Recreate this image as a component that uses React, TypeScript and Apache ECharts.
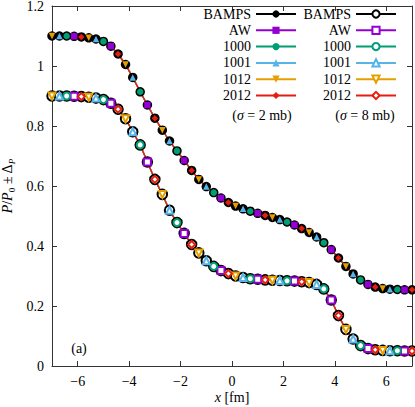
import React, { useEffect, useRef } from "react";
import * as echarts from "echarts";

// x positions (fm)
const X = [
  -7.0, -6.71, -6.43, -6.14, -5.86, -5.57, -5.29, -5.0, -4.71, -4.43,
  -4.14, -3.86, -3.57, -3.29, -3.0, -2.71, -2.43, -2.14, -1.86, -1.57,
  -1.29, -1.0, -0.71, -0.43, -0.14, 0.14, 0.43, 0.71, 1.0, 1.29,
  1.57, 1.86, 2.14, 2.43, 2.71, 3.0, 3.29, 3.57, 3.86, 4.14,
  4.43, 4.71, 5.0, 5.29, 5.57, 5.86, 6.14, 6.43, 6.71, 7.0,
];

// P/P0 for sigma = 2 mb
const SIGMA2 = [
  1.1, 1.1, 1.1, 1.099, 1.097, 1.094, 1.09, 1.082, 1.066, 1.04,
  1.005, 0.962, 0.914, 0.87, 0.826, 0.786, 0.75, 0.717, 0.685, 0.652,
  0.622, 0.598, 0.578, 0.56, 0.545, 0.533, 0.524, 0.516, 0.509, 0.502,
  0.495, 0.488, 0.48, 0.47, 0.458, 0.445, 0.43, 0.411, 0.388, 0.36,
  0.332, 0.307, 0.287, 0.272, 0.263, 0.258, 0.256, 0.255, 0.254, 0.254,
];

// P/P0 for sigma = 8 mb
const SIGMA8 = [
  0.9, 0.9, 0.9, 0.899, 0.898, 0.896, 0.893, 0.888, 0.876, 0.856,
  0.824, 0.781, 0.737, 0.68, 0.622, 0.572, 0.519, 0.478, 0.442, 0.405,
  0.377, 0.351, 0.332, 0.318, 0.308, 0.3, 0.295, 0.291, 0.289, 0.287,
  0.286, 0.285, 0.284, 0.283, 0.281, 0.278, 0.272, 0.257, 0.22, 0.168,
  0.122, 0.09, 0.068, 0.058, 0.054, 0.052, 0.051, 0.051, 0.05, 0.05,
];

const NAMES = ["BAMPS", "AW", "1000", "1001", "1012", "2012"];
const X_TICKS = [-6, -4, -2, 0, 2, 4, 6];

const COLORS = ["#000000", "#9400d3", "#009e73", "#56b4e9", "#e69f00", "#e51e10"];
const SYMBOLS = ["circle", "rect", "circle", "triangle", "triangle", "diamond"];
const ROTATE = [0, 0, 0, 0, 180, 0];
const MARK_OFFSET = [-1, 3, 2, 1, 0, 4];
const FONT = "'Liberation Serif', 'DejaVu Serif', serif";

function makeSeries(data: number[], open: boolean, suffix: string) {
  return NAMES.map((name, k) => {
    const color = COLORS[k];
    const keep = (i: number) => MARK_OFFSET[k] < 0 || i % 5 === MARK_OFFSET[k];
    const sym = open ? "empty" + SYMBOLS[k][0].toUpperCase() + SYMBOLS[k].slice(1) : SYMBOLS[k];
    const size = k === 0 ? 9.5 : open ? 7 : 6.5;
    return {
      type: "line",
      name: name + suffix,
      xAxisIndex: 0,
      yAxisIndex: 0,
      data: X.map((x, i) =>
        keep(i) ? [x, data[i]] : { value: [x, data[i]], symbol: "none" }
      ),
      symbol: sym,
      symbolRotate: ROTATE[k],
      symbolSize: size,
      showSymbol: true,
      showAllSymbol: true,
      lineStyle: { color, width: k === 0 ? 1 : 1.3 },
      itemStyle: { color, borderColor: color, borderWidth: open ? 1.3 : 0 },
      emphasis: { disabled: true },
    };
  });
}

export default function App() {
  const ref = useRef<HTMLDivElement>(null);
  useEffect(() => {
    if (!ref.current) return;
    const chart = echarts.init(ref.current, undefined, { renderer: "svg" });
    const axisLine = { show: true, lineStyle: { color: "#333", width: 1 } };
    const legendBase = {
      orient: "vertical",
      align: "right",
      top: 7,
      itemWidth: 40,
      itemHeight: 9,
      itemGap: 2.3,
      padding: 0,
      textStyle: { fontFamily: FONT, fontSize: 14, color: "#000" },
      formatter: (n: string) => n.trim(),
      selectedMode: false,
    };
    chart.setOption({
      animation: false,
      backgroundColor: "#fff",
      grid: { left: 52, right: 3, top: 6, bottom: 41, containLabel: false, outerBoundsMode: "none" },
      xAxis: [
        {
          type: "value",
          min: -7,
          max: 7,
          position: "bottom",
          axisLine: { ...axisLine, onZero: false },
          axisTick: { inside: true, length: 5, customValues: X_TICKS, lineStyle: { color: "#333" } },
          axisLabel: {
            customValues: X_TICKS,
            margin: 8,
            fontFamily: FONT,
            fontSize: 14,
            color: "#000",
            formatter: (v: number) => String(v).replace("-", "\u2212"),
          },
          splitLine: { show: false },
          name: "{i|x} [fm]",
          nameLocation: "middle",
          nameGap: 24,
          nameMoveOverlap: false,
          nameTextStyle: {
            fontFamily: FONT,
            fontSize: 14,
            color: "#000",
            rich: { i: { fontFamily: FONT, fontSize: 14, fontStyle: "italic", color: "#000" } },
          },
        },
        {
          type: "value",
          min: -7,
          max: 7,
          position: "top",
          axisLine: { ...axisLine, onZero: false },
          axisTick: { inside: true, length: 5, customValues: X_TICKS, lineStyle: { color: "#333" } },
          axisLabel: { show: false },
          splitLine: { show: false },
        },
      ],
      yAxis: [
        {
          type: "value",
          min: 0,
          max: 1.2,
          interval: 0.2,
          position: "left",
          axisLine: { ...axisLine, onZero: false },
          axisTick: { inside: true, length: 5, lineStyle: { color: "#333" } },
          axisLabel: { margin: 8, fontFamily: FONT, fontSize: 14, color: "#000" },
          splitLine: { show: false },
          name: "{i|P}{n|/}{i|P}{s|0}{n| ± Δ}{si|P}",
          nameLocation: "middle",
          nameGap: 36,
          nameMoveOverlap: false,
          nameTextStyle: {
            color: "#000",
            rich: {
              i: { fontFamily: FONT, fontSize: 14, fontStyle: "italic", lineHeight: 18, color: "#000" },
              n: { fontFamily: FONT, fontSize: 14, lineHeight: 18, color: "#000" },
              s: { fontFamily: FONT, fontSize: 9, lineHeight: 9, verticalAlign: "bottom", color: "#000" },
              si: { fontFamily: FONT, fontSize: 9, fontStyle: "italic", lineHeight: 9, verticalAlign: "bottom", color: "#000" },
            },
          },
        },
        {
          type: "value",
          min: 0,
          max: 1.2,
          interval: 0.2,
          position: "right",
          axisLine: { ...axisLine, onZero: false },
          axisTick: { inside: true, length: 5, lineStyle: { color: "#333" } },
          axisLabel: { show: false },
          splitLine: { show: false },
        },
      ],
      legend: [
        { ...legendBase, right: 118, data: NAMES },
        { ...legendBase, right: 18, data: NAMES.map((n) => n + " ") },
      ],
      graphic: [
        {
          type: "text",
          x: 262,
          y: 115,
          style: {
            text: "({i|σ} = 2 mb)",
            font: `14px ${FONT}`,
            fill: "#000",
            align: "center",
            verticalAlign: "middle",
            rich: { i: { fontStyle: "italic", fontFamily: FONT, fontSize: 14 } },
          },
        },
        {
          type: "text",
          x: 365,
          y: 115,
          style: {
            text: "({i|σ} = 8 mb)",
            font: `14px ${FONT}`,
            fill: "#000",
            align: "center",
            verticalAlign: "middle",
            rich: { i: { fontStyle: "italic", fontFamily: FONT, fontSize: 14 } },
          },
        },
        {
          type: "text",
          x: 79,
          y: 348,
          style: {
            text: "(a)",
            font: `14px ${FONT}`,
            fill: "#000",
            align: "center",
            verticalAlign: "middle",
          },
        },
      ],
      series: [...makeSeries(SIGMA2, false, ""), ...makeSeries(SIGMA8, true, " ")],
    });
    return () => chart.dispose();
  }, []);
  return (
    <div
      ref={ref}
      style={{ position: "absolute", left: 0, top: 0, width: 415, height: 407 }}
    />
  );
}
